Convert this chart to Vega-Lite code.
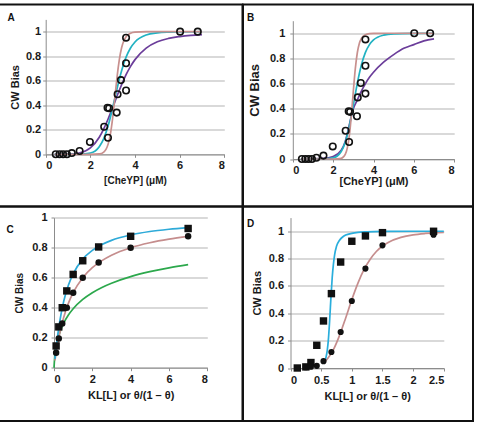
{
  "$schema": "https://vega.github.io/schema/vega-lite/v6.json",
  "padding": {"left": -2, "top": 3.5, "right": 0, "bottom": 0},
  "background": "white",
  "resolve": {"scale": {"color": "independent"}},
  "config": {
    "view": {"stroke": "#111111", "strokeWidth": 2},
    "font": "Liberation Sans",
    "title": {"font": "Liberation Sans", "fontWeight": "bold", "color": "#111111", "fontSize": 10},
    "axis": {
      "labelFont": "Liberation Sans", "labelFontWeight": "bold", "labelFontSize": 11, "labelColor": "#1a1a1a",
      "titleFont": "Liberation Sans", "titleFontWeight": "bold", "titleColor": "#1a1a1a",
      "domainColor": "#8c8c8c", "tickColor": "#8c8c8c", "gridColor": "#b3b3b3",
      "tickSize": 3, "labelPadding": 2, "format": "~g"
    },
    "line": {"strokeWidth": 1.7, "interpolate": "monotone"}
  },
  "datasets": {
    "obsAB": [
      {"x": 0.45, "y": 0}, {"x": 0.62, "y": 0}, {"x": 0.78, "y": 0}, {"x": 0.95, "y": 0},
      {"x": 1.17, "y": 0.01}, {"x": 1.52, "y": 0.027}, {"x": 1.98, "y": 0.1}, {"x": 2.62, "y": 0.225},
      {"x": 2.77, "y": 0.38}, {"x": 2.84, "y": 0.375}, {"x": 2.79, "y": 0.135}, {"x": 3.18, "y": 0.34},
      {"x": 3.22, "y": 0.49}, {"x": 3.37, "y": 0.605}, {"x": 3.6, "y": 0.742}, {"x": 3.6, "y": 0.52},
      {"x": 3.6, "y": 0.951}, {"x": 6.02, "y": 1.0}, {"x": 6.81, "y": 1.0}
    ],
    "curvesA": [
      {"curve": "purple", "x": 0.4, "y": 0}, {"curve": "purple", "x": 1.0, "y": 0.0009}, {"curve": "purple", "x": 1.5, "y": 0.0096},
      {"curve": "purple", "x": 2.0, "y": 0.0515}, {"curve": "purple", "x": 2.4, "y": 0.139}, {"curve": "purple", "x": 2.6, "y": 0.208},
      {"curve": "purple", "x": 2.8, "y": 0.29}, {"curve": "purple", "x": 3.0, "y": 0.382}, {"curve": "purple", "x": 3.2, "y": 0.477},
      {"curve": "purple", "x": 3.4, "y": 0.567}, {"curve": "purple", "x": 3.6, "y": 0.649}, {"curve": "purple", "x": 3.8, "y": 0.717},
      {"curve": "purple", "x": 4.0, "y": 0.772}, {"curve": "purple", "x": 4.5, "y": 0.866}, {"curve": "purple", "x": 5.0, "y": 0.918},
      {"curve": "purple", "x": 5.5, "y": 0.945}, {"curve": "purple", "x": 6.0, "y": 0.96}, {"curve": "purple", "x": 6.5, "y": 0.97},
      {"curve": "purple", "x": 7.0, "y": 0.976},
      {"curve": "cyan", "x": 0.4, "y": 0}, {"curve": "cyan", "x": 1.0, "y": 0}, {"curve": "cyan", "x": 1.5, "y": 0.0006},
      {"curve": "cyan", "x": 2.0, "y": 0.0105}, {"curve": "cyan", "x": 2.4, "y": 0.062}, {"curve": "cyan", "x": 2.6, "y": 0.128},
      {"curve": "cyan", "x": 2.8, "y": 0.235}, {"curve": "cyan", "x": 3.0, "y": 0.38}, {"curve": "cyan", "x": 3.1, "y": 0.46},
      {"curve": "cyan", "x": 3.2, "y": 0.539}, {"curve": "cyan", "x": 3.4, "y": 0.682}, {"curve": "cyan", "x": 3.6, "y": 0.792},
      {"curve": "cyan", "x": 3.8, "y": 0.867}, {"curve": "cyan", "x": 4.0, "y": 0.916}, {"curve": "cyan", "x": 4.5, "y": 0.973},
      {"curve": "cyan", "x": 5.0, "y": 0.99}, {"curve": "cyan", "x": 5.5, "y": 0.996}, {"curve": "cyan", "x": 6.0, "y": 0.998},
      {"curve": "cyan", "x": 7.0, "y": 1.0},
      {"curve": "pink", "x": 0.4, "y": 0}, {"curve": "pink", "x": 1.5, "y": 0}, {"curve": "pink", "x": 2.0, "y": 0.0001},
      {"curve": "pink", "x": 2.4, "y": 0.003}, {"curve": "pink", "x": 2.6, "y": 0.018}, {"curve": "pink", "x": 2.7, "y": 0.04},
      {"curve": "pink", "x": 2.8, "y": 0.085}, {"curve": "pink", "x": 2.9, "y": 0.167}, {"curve": "pink", "x": 3.0, "y": 0.297},
      {"curve": "pink", "x": 3.05, "y": 0.378}, {"curve": "pink", "x": 3.1, "y": 0.465}, {"curve": "pink", "x": 3.15, "y": 0.552},
      {"curve": "pink", "x": 3.2, "y": 0.636}, {"curve": "pink", "x": 3.3, "y": 0.774}, {"curve": "pink", "x": 3.4, "y": 0.869},
      {"curve": "pink", "x": 3.5, "y": 0.926}, {"curve": "pink", "x": 3.6, "y": 0.959}, {"curve": "pink", "x": 3.8, "y": 0.987},
      {"curve": "pink", "x": 4.0, "y": 0.996}, {"curve": "pink", "x": 4.5, "y": 1.0}, {"curve": "pink", "x": 5.5, "y": 1.0},
      {"curve": "pink", "x": 7.0, "y": 1.0}
    ],
    "curvesB": [
      {"curve": "purple", "x": 0.4, "y": 0}, {"curve": "purple", "x": 1.5, "y": 0.005}, {"curve": "purple", "x": 2.0, "y": 0.02},
      {"curve": "purple", "x": 2.4, "y": 0.07}, {"curve": "purple", "x": 2.6, "y": 0.14}, {"curve": "purple", "x": 2.8, "y": 0.27},
      {"curve": "purple", "x": 2.9, "y": 0.34}, {"curve": "purple", "x": 3.0, "y": 0.4}, {"curve": "purple", "x": 3.2, "y": 0.47},
      {"curve": "purple", "x": 3.4, "y": 0.54}, {"curve": "purple", "x": 3.6, "y": 0.6}, {"curve": "purple", "x": 3.8, "y": 0.65},
      {"curve": "purple", "x": 4.0, "y": 0.69}, {"curve": "purple", "x": 4.5, "y": 0.77}, {"curve": "purple", "x": 5.0, "y": 0.83},
      {"curve": "purple", "x": 5.5, "y": 0.88}, {"curve": "purple", "x": 6.0, "y": 0.91}, {"curve": "purple", "x": 6.5, "y": 0.94},
      {"curve": "purple", "x": 7.0, "y": 0.955},
      {"curve": "cyan", "x": 0.4, "y": 0}, {"curve": "cyan", "x": 1.5, "y": 0.0004}, {"curve": "cyan", "x": 2.0, "y": 0.0086},
      {"curve": "cyan", "x": 2.4, "y": 0.06}, {"curve": "cyan", "x": 2.6, "y": 0.134}, {"curve": "cyan", "x": 2.8, "y": 0.26},
      {"curve": "cyan", "x": 2.9, "y": 0.34}, {"curve": "cyan", "x": 3.0, "y": 0.428}, {"curve": "cyan", "x": 3.1, "y": 0.518},
      {"curve": "cyan", "x": 3.2, "y": 0.604}, {"curve": "cyan", "x": 3.4, "y": 0.748}, {"curve": "cyan", "x": 3.6, "y": 0.848},
      {"curve": "cyan", "x": 3.8, "y": 0.91}, {"curve": "cyan", "x": 4.0, "y": 0.947}, {"curve": "cyan", "x": 4.5, "y": 0.985},
      {"curve": "cyan", "x": 5.0, "y": 0.995}, {"curve": "cyan", "x": 6.0, "y": 0.999}, {"curve": "cyan", "x": 7.0, "y": 1.0},
      {"curve": "pink", "x": 0.4, "y": 0}, {"curve": "pink", "x": 2.0, "y": 0.0001}, {"curve": "pink", "x": 2.4, "y": 0.0055},
      {"curve": "pink", "x": 2.6, "y": 0.0365}, {"curve": "pink", "x": 2.7, "y": 0.086}, {"curve": "pink", "x": 2.8, "y": 0.183},
      {"curve": "pink", "x": 2.9, "y": 0.342}, {"curve": "pink", "x": 2.95, "y": 0.44}, {"curve": "pink", "x": 3.0, "y": 0.54},
      {"curve": "pink", "x": 3.1, "y": 0.721}, {"curve": "pink", "x": 3.2, "y": 0.847}, {"curve": "pink", "x": 3.3, "y": 0.92},
      {"curve": "pink", "x": 3.4, "y": 0.959}, {"curve": "pink", "x": 3.6, "y": 0.989}, {"curve": "pink", "x": 3.8, "y": 0.997},
      {"curve": "pink", "x": 4.0, "y": 0.999}, {"curve": "pink", "x": 5.0, "y": 1.0}, {"curve": "pink", "x": 7.0, "y": 1.0}
    ],
    "curvesC": [
      {"curve": "green", "x": 0, "y": 0}, {"curve": "green", "x": 0.05, "y": 0.09}, {"curve": "green", "x": 0.1, "y": 0.133},
      {"curve": "green", "x": 0.2, "y": 0.191}, {"curve": "green", "x": 0.3, "y": 0.233}, {"curve": "green", "x": 0.5, "y": 0.295},
      {"curve": "green", "x": 0.75, "y": 0.351}, {"curve": "green", "x": 1.0, "y": 0.393}, {"curve": "green", "x": 1.5, "y": 0.455},
      {"curve": "green", "x": 2.0, "y": 0.5}, {"curve": "green", "x": 2.5, "y": 0.535}, {"curve": "green", "x": 3.0, "y": 0.563},
      {"curve": "green", "x": 4.0, "y": 0.607}, {"curve": "green", "x": 5.0, "y": 0.64}, {"curve": "green", "x": 6.0, "y": 0.666},
      {"curve": "green", "x": 7.0, "y": 0.687},
      {"curve": "pink", "x": 0.05, "y": 0.048}, {"curve": "pink", "x": 0.1, "y": 0.091}, {"curve": "pink", "x": 0.2, "y": 0.167},
      {"curve": "pink", "x": 0.3, "y": 0.231}, {"curve": "pink", "x": 0.5, "y": 0.333}, {"curve": "pink", "x": 0.75, "y": 0.429},
      {"curve": "pink", "x": 1.0, "y": 0.5}, {"curve": "pink", "x": 1.5, "y": 0.6}, {"curve": "pink", "x": 2.0, "y": 0.667},
      {"curve": "pink", "x": 2.5, "y": 0.714}, {"curve": "pink", "x": 3.0, "y": 0.75}, {"curve": "pink", "x": 4.0, "y": 0.8},
      {"curve": "pink", "x": 5.0, "y": 0.833}, {"curve": "pink", "x": 6.0, "y": 0.857}, {"curve": "pink", "x": 7.0, "y": 0.875},
      {"curve": "cyan", "x": 0.05, "y": 0.059}, {"curve": "cyan", "x": 0.1, "y": 0.118}, {"curve": "cyan", "x": 0.2, "y": 0.222},
      {"curve": "cyan", "x": 0.3, "y": 0.308}, {"curve": "cyan", "x": 0.5, "y": 0.439}, {"curve": "cyan", "x": 0.75, "y": 0.55},
      {"curve": "cyan", "x": 1.0, "y": 0.626}, {"curve": "cyan", "x": 1.5, "y": 0.724}, {"curve": "cyan", "x": 2.0, "y": 0.782},
      {"curve": "cyan", "x": 2.5, "y": 0.821}, {"curve": "cyan", "x": 3.0, "y": 0.849}, {"curve": "cyan", "x": 4.0, "y": 0.885},
      {"curve": "cyan", "x": 5.0, "y": 0.908}, {"curve": "cyan", "x": 6.0, "y": 0.923}, {"curve": "cyan", "x": 7.0, "y": 0.934}
    ],
    "squaresC": [
      {"x": 0.111, "y": 0.145}, {"x": 0.25, "y": 0.272}, {"x": 0.43, "y": 0.4}, {"x": 0.667, "y": 0.512},
      {"x": 1.0, "y": 0.622}, {"x": 1.5, "y": 0.713}, {"x": 2.33, "y": 0.805}, {"x": 4.0, "y": 0.876}, {"x": 7.0, "y": 0.928}
    ],
    "circlesC": [
      {"x": 0.111, "y": 0.1}, {"x": 0.25, "y": 0.195}, {"x": 0.43, "y": 0.295}, {"x": 0.667, "y": 0.4},
      {"x": 1.0, "y": 0.5}, {"x": 1.5, "y": 0.6}, {"x": 2.33, "y": 0.702}, {"x": 4.0, "y": 0.8}, {"x": 7.0, "y": 0.876}
    ],
    "curvesD": [
      {"curve": "pink", "x": 0.55, "y": 0.043}, {"curve": "pink", "x": 0.6, "y": 0.066}, {"curve": "pink", "x": 0.7, "y": 0.135},
      {"curve": "pink", "x": 0.8, "y": 0.239}, {"curve": "pink", "x": 0.9, "y": 0.366}, {"curve": "pink", "x": 1.0, "y": 0.5},
      {"curve": "pink", "x": 1.1, "y": 0.621}, {"curve": "pink", "x": 1.2, "y": 0.721}, {"curve": "pink", "x": 1.3, "y": 0.796},
      {"curve": "pink", "x": 1.4, "y": 0.852}, {"curve": "pink", "x": 1.5, "y": 0.892}, {"curve": "pink", "x": 1.6, "y": 0.92},
      {"curve": "pink", "x": 1.8, "y": 0.955}, {"curve": "pink", "x": 2.0, "y": 0.974}, {"curve": "pink", "x": 2.2, "y": 0.984},
      {"curve": "pink", "x": 2.4, "y": 0.99}, {"curve": "pink", "x": 2.5, "y": 0.992},
      {"curve": "cyan", "x": 0.55, "y": 0.045}, {"curve": "cyan", "x": 0.58, "y": 0.08}, {"curve": "cyan", "x": 0.6, "y": 0.13},
      {"curve": "cyan", "x": 0.62, "y": 0.22}, {"curve": "cyan", "x": 0.64, "y": 0.36}, {"curve": "cyan", "x": 0.66, "y": 0.52},
      {"curve": "cyan", "x": 0.68, "y": 0.66}, {"curve": "cyan", "x": 0.7, "y": 0.76}, {"curve": "cyan", "x": 0.72, "y": 0.83},
      {"curve": "cyan", "x": 0.75, "y": 0.89}, {"curve": "cyan", "x": 0.8, "y": 0.935}, {"curve": "cyan", "x": 0.85, "y": 0.958},
      {"curve": "cyan", "x": 0.9, "y": 0.972}, {"curve": "cyan", "x": 1.0, "y": 0.985}, {"curve": "cyan", "x": 1.1, "y": 0.992},
      {"curve": "cyan", "x": 1.25, "y": 0.996}, {"curve": "cyan", "x": 1.5, "y": 0.999}, {"curve": "cyan", "x": 2.0, "y": 1.0},
      {"curve": "cyan", "x": 2.5, "y": 1.0}
    ],
    "squaresD": [
      {"x": 0.111, "y": 0}, {"x": 0.25, "y": 0.008}, {"x": 0.333, "y": 0.04}, {"x": 0.4286, "y": 0.166},
      {"x": 0.538, "y": 0.344}, {"x": 0.667, "y": 0.544}, {"x": 0.818, "y": 0.775}, {"x": 1.0, "y": 0.927},
      {"x": 1.222, "y": 0.966}, {"x": 1.5, "y": 0.99}, {"x": 2.333, "y": 1.0}
    ],
    "circlesD": [
      {"x": 0.111, "y": 0}, {"x": 0.25, "y": 0.006}, {"x": 0.333, "y": 0.01}, {"x": 0.4286, "y": 0.016},
      {"x": 0.538, "y": 0.05}, {"x": 0.667, "y": 0.117}, {"x": 0.818, "y": 0.263}, {"x": 1.0, "y": 0.49},
      {"x": 1.222, "y": 0.727}, {"x": 1.5, "y": 0.897}, {"x": 2.333, "y": 0.975}
    ]
  },
  "columns": 2,
  "align": "each",
  "bounds": "flush",
  "spacing": 0,
  "concat": [
    {
      "width": 243.5, "height": 202,
      "title": {"text": "A", "anchor": "start", "frame": "group", "baseline": "top", "offset": -18, "dx": 8.5, "fontSize": 10},
      "layer": [
        {
          "data": {"name": "curvesA"},
          "mark": {"type": "line"},
          "encoding": {
            "x": {"field": "x", "type": "quantitative",
              "scale": {"domain": [0, 8], "range": [46.7, 225.3], "nice": false, "zero": false},
              "axis": {"values": [0, 2, 4, 6, 8], "offset": -52.2, "title": "[CheYP] (μM)", "titleFontSize": 10, "titlePadding": 5, "grid": false}},
            "y": {"field": "y", "type": "quantitative",
              "scale": {"domain": [0, 1.1], "range": [149.8, 14.9], "nice": false},
              "axis": {"values": [0, 0.2, 0.4, 0.6, 0.8, 1], "offset": -46.7, "title": "CW Bias", "titleFontSize": 11, "titlePadding": 5, "grid": true}},
            "color": {"field": "curve", "type": "nominal",
              "scale": {"domain": ["purple", "cyan", "pink"], "range": ["#6b3d9a", "#22b2c2", "#c8908e"]}, "legend": null}
          }
        },
        {
          "data": {"name": "obsAB"},
          "mark": {"type": "point", "shape": "circle", "filled": false, "stroke": "#111111", "strokeWidth": 1.6, "size": 42, "opacity": 1},
          "encoding": {
            "x": {"field": "x", "type": "quantitative"},
            "y": {"field": "y", "type": "quantitative"}
          }
        }
      ]
    },
    {
      "width": 230, "height": 202,
      "title": {"text": "B", "anchor": "start", "frame": "group", "baseline": "top", "offset": -18, "dx": 4, "fontSize": 10},
      "layer": [
        {
          "data": {"name": "curvesB"},
          "mark": {"type": "line"},
          "encoding": {
            "x": {"field": "x", "type": "quantitative",
              "scale": {"domain": [0, 8], "range": [49.8, 211.2], "nice": false, "zero": false},
              "axis": {"values": [0, 2, 4, 6, 8], "offset": -47.5, "title": "[CheYP] (μM)", "titleFontSize": 11, "titlePadding": 0, "grid": false}},
            "y": {"field": "y", "type": "quantitative",
              "scale": {"domain": [0, 1.1], "range": [154.5, 16.2], "nice": false},
              "axis": {"values": [0, 0.2, 0.4, 0.6, 0.8, 1], "offset": -49.8, "title": "CW Bias", "titleFontSize": 13, "titlePadding": 8, "grid": true, "labelPadding": 5}},
            "color": {"field": "curve", "type": "nominal",
              "scale": {"domain": ["purple", "cyan", "pink"], "range": ["#6b3d9a", "#22b2c2", "#c8908e"]}, "legend": null}
          }
        },
        {
          "data": {"name": "obsAB"},
          "mark": {"type": "point", "shape": "circle", "filled": false, "stroke": "#111111", "strokeWidth": 1.6, "size": 42, "opacity": 1},
          "encoding": {
            "x": {"field": "x", "type": "quantitative"},
            "y": {"field": "y", "type": "quantitative"}
          }
        }
      ]
    },
    {
      "width": 243.5, "height": 214.5,
      "title": {"text": "C", "anchor": "start", "frame": "group", "baseline": "top", "offset": -28.5, "dx": 7.5, "fontSize": 10},
      "layer": [
        {
          "data": {"name": "curvesC"},
          "mark": {"type": "line"},
          "encoding": {
            "x": {"field": "x", "type": "quantitative",
              "scale": {"domain": [0, 8], "range": [55, 208.3], "nice": false, "zero": false},
              "axis": {"values": [0, 2, 4, 6, 8], "offset": -53.3, "title": "KL[L] or θ/(1 – θ)", "titleFontSize": 11, "titlePadding": 5, "grid": false, "labelPadding": 3}},
            "y": {"field": "y", "type": "quantitative",
              "scale": {"domain": [0, 1], "range": [161.2, 11.2], "nice": false},
              "axis": {"values": [0, 0.2, 0.4, 0.6, 0.8, 1], "offset": -55, "title": "CW Bias", "titleFontSize": 10, "titlePadding": 7, "grid": true, "labelPadding": 4}},
            "color": {"field": "curve", "type": "nominal",
              "scale": {"domain": ["green", "pink", "cyan"], "range": ["#2ca84c", "#c58d8d", "#2eaad8"]}, "legend": null}
          }
        },
        {
          "data": {"name": "squaresC"},
          "mark": {"type": "point", "shape": "square", "filled": true, "color": "#111111", "size": 55, "opacity": 1},
          "encoding": {
            "x": {"field": "x", "type": "quantitative"},
            "y": {"field": "y", "type": "quantitative"}
          }
        },
        {
          "data": {"name": "circlesC"},
          "mark": {"type": "point", "shape": "circle", "filled": true, "color": "#111111", "size": 42, "opacity": 1},
          "encoding": {
            "x": {"field": "x", "type": "quantitative"},
            "y": {"field": "y", "type": "quantitative"}
          }
        }
      ]
    },
    {
      "width": 230, "height": 214.5,
      "title": {"text": "D", "anchor": "start", "frame": "group", "baseline": "top", "offset": -22.5, "dx": 4, "fontSize": 10},
      "layer": [
        {
          "data": {"name": "curvesD"},
          "mark": {"type": "line"},
          "encoding": {
            "x": {"field": "x", "type": "quantitative",
              "scale": {"domain": [0, 2.5], "range": [47.5, 200.8], "nice": false, "zero": false},
              "axis": {"values": [0, 0.5, 1, 1.5, 2, 2.5], "offset": -53, "title": "KL[L] or θ/(1 – θ)", "titleFontSize": 11, "titlePadding": 5, "grid": false, "labelPadding": 3}},
            "y": {"field": "y", "type": "quantitative",
              "scale": {"domain": [0, 1.1], "range": [161.5, 11.1], "nice": false},
              "axis": {"values": [0, 0.2, 0.4, 0.6, 0.8, 1], "offset": -47.5, "title": "CW Bias", "titleFontSize": 11, "titlePadding": 6, "grid": true, "labelPadding": 4}},
            "color": {"field": "curve", "type": "nominal",
              "scale": {"domain": ["pink", "cyan"], "range": ["#c58d8d", "#2aaedc"]}, "legend": null}
          }
        },
        {
          "data": {"name": "squaresD"},
          "mark": {"type": "point", "shape": "square", "filled": true, "color": "#111111", "size": 55, "opacity": 1},
          "encoding": {
            "x": {"field": "x", "type": "quantitative"},
            "y": {"field": "y", "type": "quantitative"}
          }
        },
        {
          "data": {"name": "circlesD"},
          "mark": {"type": "point", "shape": "circle", "filled": true, "color": "#111111", "size": 38, "opacity": 1},
          "encoding": {
            "x": {"field": "x", "type": "quantitative"},
            "y": {"field": "y", "type": "quantitative"}
          }
        }
      ]
    }
  ]
}
